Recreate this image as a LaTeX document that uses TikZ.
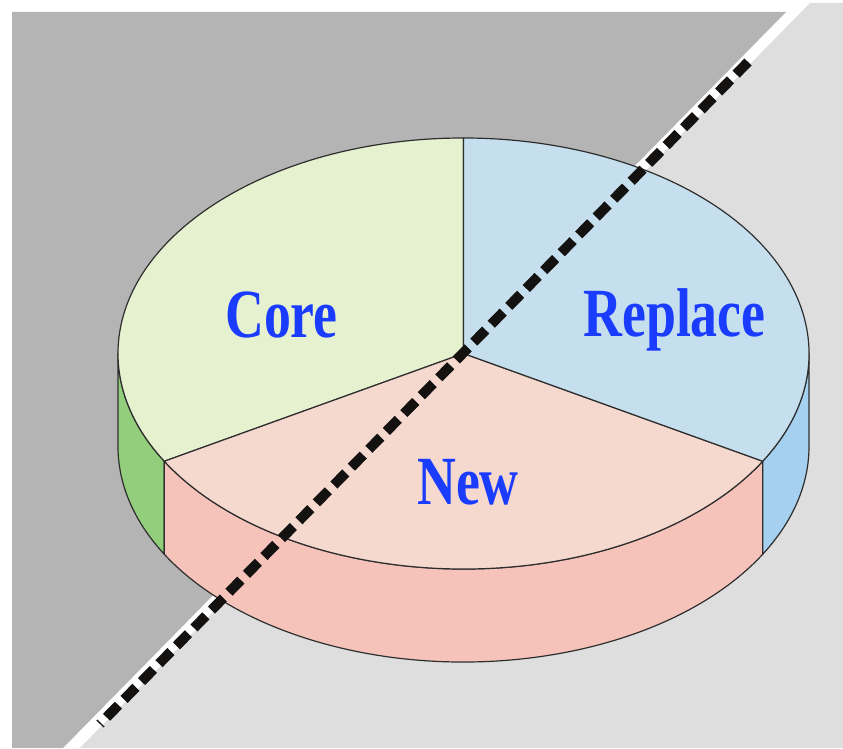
\documentclass[tikz,border=0pt]{standalone}
\usepackage{fontspec}
\setmainfont{Liberation Serif}
\definecolor{darkbg}{HTML}{B4B4B4}
\definecolor{lightbg}{HTML}{DEDEDE}
\definecolor{coretop}{HTML}{E6F1D0}
\definecolor{reptop}{HTML}{C6DFEE}
\definecolor{newtop}{HTML}{F6D9CE}
\definecolor{greenside}{HTML}{92CE7B}
\definecolor{pinkside}{HTML}{F5C3BA}
\definecolor{blueside}{HTML}{A5D0EF}
\definecolor{outline}{HTML}{2E2E2E}
\definecolor{lblblue}{HTML}{1A3CFF}
\definecolor{dashcol}{HTML}{141210}
\begin{document}
\begin{tikzpicture}[x=1pt,y=1pt,
  edge/.style={draw=outline, line width=1.2pt, line join=round},
  ell/.style={x radius=345.5, y radius=215.5},
  lbl/.style={text=lblblue, font=\bfseries\fontsize{69}{69}\selectfont, anchor=base, inner sep=0pt},
  dashline/.style={draw=dashcol, line width=10pt, line cap=butt, dash pattern=on 17pt off 8pt}]
\useasboundingbox (0,0) rectangle (843,749);
% background
\fill[darkbg] (12,1) -- (12,737) -- (786,737) -- (63,1) -- cycle;
\fill[lightbg] (80,1) -- (810,746) -- (843,746) -- (843,1) -- cycle;
\coordinate (c) at (463.5,395.5);
% side faces
\filldraw[edge, fill=greenside] (c) ++(180:345.5 and 215.5) arc[start angle=180, end angle=210, ell] -- ++(0,-93) arc[start angle=210, end angle=180, ell] -- cycle;
\filldraw[edge, fill=pinkside] (c) ++(210:345.5 and 215.5) arc[start angle=210, end angle=330, ell] -- ++(0,-93) arc[start angle=330, end angle=210, ell] -- cycle;
\filldraw[edge, fill=blueside] (c) ++(330:345.5 and 215.5) arc[start angle=330, end angle=360, ell] -- ++(0,-93) arc[start angle=360, end angle=330, ell] -- cycle;
% top slices
\filldraw[edge, fill=coretop] (c) -- ++(90:345.5 and 215.5) arc[start angle=90, end angle=210, ell] -- cycle;
\filldraw[edge, fill=newtop] (c) -- ++(210:345.5 and 215.5) arc[start angle=210, end angle=330, ell] -- cycle;
\filldraw[edge, fill=reptop] (c) -- ++(330:345.5 and 215.5) arc[start angle=-30, end angle=90, ell] -- cycle;
% labels
\node[lbl] (core) at (281.5,411) {\scalebox{0.78}[1]{Core}};
\node[lbl] (replace) at (674.5,412) {\scalebox{0.78}[1]{Replace}};
\node[lbl] (new) at (468,244) {\scalebox{0.78}[1]{New}};
% dashed line
\coordinate (dA) at (748,687);
\coordinate (dB) at (100,25);
\draw[dashline] (dA) -- (dB);
\end{tikzpicture}
\end{document}
